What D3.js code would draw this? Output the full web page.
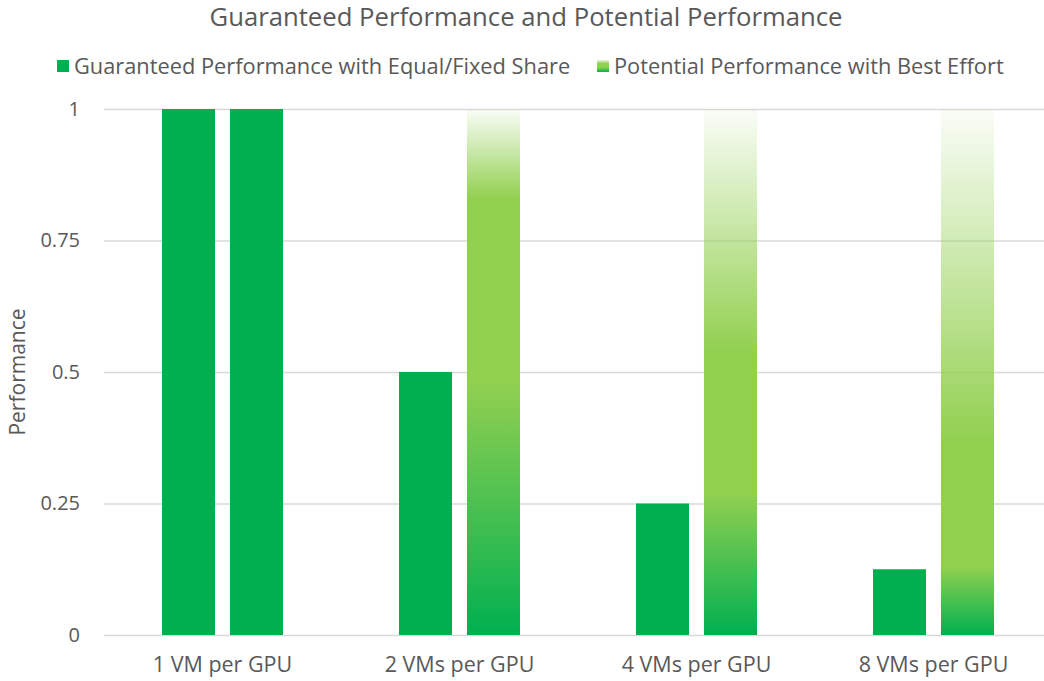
<!DOCTYPE html>
<html>
<head>
<meta charset="utf-8">
<script src="https://cdn.jsdelivr.net/npm/d3@7"></script>
<style>
  html, body { margin: 0; padding: 0; background: #fff; }
  svg { display: block; }
  text { font-family: "Open Sans", Lato, sans-serif; fill: #595959; }
</style>
</head>
<body>
<svg id="chart" width="1044" height="681"></svg>
<script>
// ---- Data ----
const categories = ["1 VM per GPU", "2 VMs per GPU", "4 VMs per GPU", "8 VMs per GPU"];
const seriesNames = ["Guaranteed Performance with Equal/Fixed Share", "Potential Performance with Best Effort"];
const guaranteed = [1, 0.5, 0.25, 0.125];
const potential = [1, 1, 1, 1];
// gradient of the "potential" bars: where dark green has fully blended to light green,
// and where the light green starts fading out toward the top
const potentialBlendEnd = [1, 0.48, 0.27, 0.13];
const potentialFadeStart = [1, 0.83, 0.54, 0.37];
const yTicks = [0, 0.25, 0.5, 0.75, 1];
const yTickLabels = ["0", "0.25", "0.5", "0.75", "1"];

// ---- Layout ----
const svg = d3.select("#chart");
const W = 1044, H = 681;
const plot = { left: 104, right: 1052, top: 109, bottom: 635 };
const darkGreen = "#00b050", lightGreen = "#92d050";

const x0 = d3.scaleBand().domain(categories).range([plot.left, plot.right]);
const x1 = d3.scaleBand().domain([0, 1]).range([0, x0.bandwidth()]).paddingInner(0.22).paddingOuter(0.853);
const y = d3.scaleLinear().domain([0, 1]).range([plot.bottom, plot.top]);

const defs = svg.append("defs");
categories.forEach((c, i) => {
  const g = defs.append("linearGradient").attr("id", "grad" + i)
    .attr("x1", 0).attr("y1", 1).attr("x2", 0).attr("y2", 0);
  if (potentialFadeStart[i] >= 1) {
    g.append("stop").attr("offset", 0).attr("stop-color", darkGreen);
    g.append("stop").attr("offset", 1).attr("stop-color", darkGreen);
  } else {
    g.append("stop").attr("offset", 0).attr("stop-color", darkGreen);
    g.append("stop").attr("offset", potentialBlendEnd[i]).attr("stop-color", lightGreen);
    g.append("stop").attr("offset", potentialFadeStart[i]).attr("stop-color", lightGreen);
    g.append("stop").attr("offset", 1).attr("stop-color", lightGreen).attr("stop-opacity", 0.04);
  }
});
const lg = defs.append("linearGradient").attr("id", "legendGrad")
  .attr("x1", 0).attr("y1", 1).attr("x2", 0).attr("y2", 0);
lg.append("stop").attr("offset", 0).attr("stop-color", darkGreen);
lg.append("stop").attr("offset", 0.4).attr("stop-color", lightGreen);
lg.append("stop").attr("offset", 0.7).attr("stop-color", lightGreen);
lg.append("stop").attr("offset", 1).attr("stop-color", lightGreen).attr("stop-opacity", 0.2);

// Gridlines
const yAxis = d3.axisLeft(y).tickValues(yTicks).tickFormat((d, i) => yTickLabels[i])
  .tickSize(-(W - plot.left)).tickPadding(24);
const ga = svg.append("g").attr("transform", `translate(${plot.left},0)`).call(yAxis);
ga.select(".domain").remove();
ga.selectAll(".tick line").attr("stroke", "#d9d9d9").attr("stroke-width", 1.3);
ga.selectAll(".tick text").style("font-size", "20px").attr("fill", "#595959")
  .style("font-family", "'Open Sans', sans-serif");

// Bars
const groups = svg.append("g").selectAll("g").data(categories).join("g")
  .attr("transform", d => `translate(${x0(d)},0)`);
groups.append("rect")
  .attr("x", x1(0)).attr("width", x1.bandwidth())
  .attr("y", (d, i) => y(guaranteed[i])).attr("height", (d, i) => y(0) - y(guaranteed[i]))
  .attr("fill", darkGreen);
groups.append("rect")
  .attr("x", x1(1)).attr("width", x1.bandwidth())
  .attr("y", (d, i) => y(potential[i])).attr("height", (d, i) => y(0) - y(potential[i]))
  .attr("fill", (d, i) => `url(#grad${i})`);

// X axis labels
const xAxis = d3.axisBottom(x0).tickSize(0).tickPadding(22);
const gx = svg.append("g").attr("transform", `translate(0,${plot.bottom})`).call(xAxis);
gx.select(".domain").remove();
gx.selectAll(".tick text").style("font-size", "21.5px").attr("fill", "#595959")
  .style("font-family", "'Open Sans', sans-serif");

// Y axis title
svg.append("text").attr("transform", `translate(25,${(plot.top + plot.bottom) / 2}) rotate(-90)`)
  .attr("text-anchor", "middle").style("font-size", "21px").text("Performance");

// Title
svg.append("text").attr("x", 526).attr("y", 26).attr("text-anchor", "middle")
  .style("font-size", "25.7px").text("Guaranteed Performance and Potential Performance");

// Legend
const legendX = [57, 597];
const legendFill = [darkGreen, "url(#legendGrad)"];
seriesNames.forEach((s, i) => {
  svg.append("rect").attr("x", legendX[i]).attr("y", 60).attr("width", 12).attr("height", 12)
    .attr("fill", legendFill[i]);
  svg.append("text").attr("x", legendX[i] + 17).attr("y", 74).style("font-size", "21.8px").text(s);
});
</script>
</body>
</html>
